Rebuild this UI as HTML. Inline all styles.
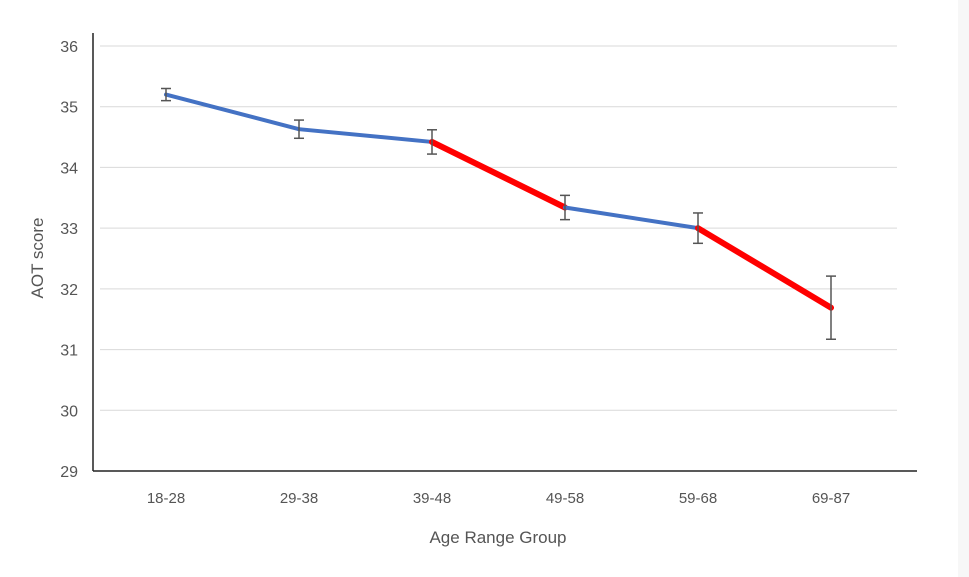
<!DOCTYPE html>
<html><head><meta charset="utf-8"><style>
body{margin:0;background:#fff;}
svg{display:block;font-family:"Liberation Sans",sans-serif;}
</style></head><body>
<svg id="chart" width="969" height="577">
<rect x="0" y="0" width="969" height="577" fill="#fff"/>
<rect x="958" y="0" width="11" height="577" fill="#f7f7f7"/>
<g id="grid"></g><g id="axes"></g><g id="marks"></g>
<text x="498" y="543" font-size="17" fill="#555" text-anchor="middle">Age Range Group</text>
<text transform="translate(43,258) rotate(-90)" font-size="17" fill="#555" text-anchor="middle">AOT score</text>
</svg>
<script>
const categories=["18-28","29-38","39-48","49-58","59-68","69-87"];
const values=[35.2,34.63,34.42,33.34,33.0,31.69];
const errors=[0.1,0.15,0.2,0.2,0.25,0.52];
const segmentColors=["#4472c4","#4472c4","#ff0000","#4472c4","#ff0000"];
const yTicks=[29,30,31,32,33,34,35,36];
const NS="http://www.w3.org/2000/svg";
const yMin=29,yMax=36,topY=46,botY=471;
const y=v=>botY-(v-yMin)/(yMax-yMin)*(botY-topY);
const x=i=>166+i*133;
function mk(tag,attrs,parent){const e=document.createElementNS(NS,tag);for(const k in attrs)e.setAttribute(k,attrs[k]);document.getElementById(parent).appendChild(e);return e;}
yTicks.forEach(t=>{
 if(t>yMin){const g=mk('line',{x1:100,x2:897,y1:y(t),y2:y(t),stroke:'#d9d9d9','stroke-width':1},'grid');
 
 }
 const l=mk('text',{x:78,y:y(t)+6,'font-size':16,fill:'#555','text-anchor':'end'},'axes');l.textContent=t;
 
 
});
const ya=mk('line',{x1:93,x2:93,y1:33,y2:botY,stroke:'#222','stroke-width':1.5},'axes');


const xa=mk('line',{x1:93,x2:917,y1:botY,y2:botY,stroke:'#222','stroke-width':1.5},'axes');


categories.forEach((c,i)=>{
 const t=mk('text',{x:x(i),y:503,'font-size':15,fill:'#555','text-anchor':'middle'},'axes');t.textContent=c;
 
 
});
for(let i=0;i<values.length-1;i++){
 const s=mk('line',{x1:x(i),y1:y(values[i]),x2:x(i+1),y2:y(values[i+1]),stroke:segmentColors[i],'stroke-width':segmentColors[i]==='#ff0000'?6:4,'stroke-linecap':'round'},'marks');
 
 
}
values.forEach((v,i)=>{
 const g=mk('g',{stroke:'#555','stroke-width':1.5},'marks');
 
 
 const a=y(v+errors[i]),b=y(v-errors[i]);
 [[x(i),a,x(i),b],[x(i)-5,a,x(i)+5,a],[x(i)-5,b,x(i)+5,b]].forEach(p=>{const l=document.createElementNS(NS,'line');l.setAttribute('x1',p[0]);l.setAttribute('y1',p[1]);l.setAttribute('x2',p[2]);l.setAttribute('y2',p[3]);g.appendChild(l);});
});
</script>
</body></html>
